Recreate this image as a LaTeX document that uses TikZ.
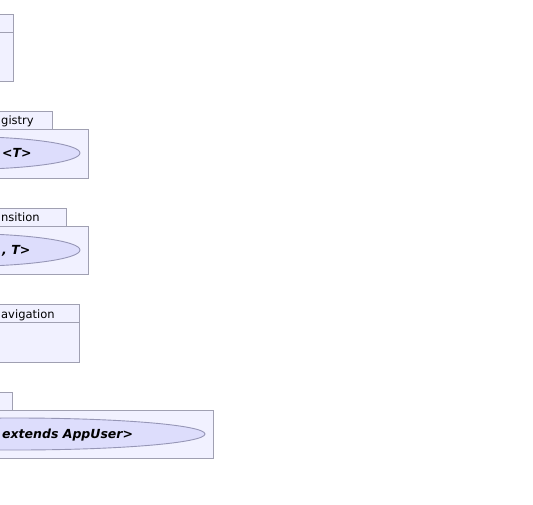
\documentclass[tikz,border=0pt]{standalone}
\usepackage{fontspec}
\setmainfont{DejaVu Sans}
\definecolor{pkgfill}{RGB}{241,241,255}
\definecolor{pkgline}{RGB}{160,160,178}
\definecolor{ucfill}{RGB}{221,221,252}
\definecolor{ucline}{RGB}{150,150,182}
\usetikzlibrary{shapes.geometric}

\begin{document}
\begin{tikzpicture}[x=1pt, y=-1pt,
    pkgbox/.style={draw=pkgline, fill=pkgfill, line width=0.9pt},
    tablabel/.style={anchor=base west, inner sep=0pt, font=\fontsize{11.5}{14}\selectfont},
    ucase/.style={ellipse, draw=ucline, fill=ucfill, line width=0.9pt, inner sep=0pt},
    uclabel/.style={anchor=base west, inner sep=0pt, font=\fontsize{12.5}{15}\selectfont\bfseries\itshape}
  ]
    \useasboundingbox (0,0) rectangle (533,504);
    \clip (0,0) rectangle (533,504);

    % Packages: tab top / tab right / body top / body right / body bottom
    \foreach \ty/\tr/\by/\br/\bb in {14/13/32/13/81, 111/52/129/88/178,
                                     208/66/226/88/274, 304/79/322/79/362,
                                     392/12/410/213/458}{
      \draw[pkgbox] (-20,\ty) rectangle (\tr,\by);
      \draw[pkgbox] (-20,\by) rectangle (\br,\bb);
    }

    % Tab labels
    \node[tablabel] (regtab) at (1,124) {gistry};
    \node[tablabel] (transtab) at (1,221.5) {nsition};
    \node[tablabel] (navtab) at (1,318.5) {avigation};

    % Use cases
    \node[ucase, minimum width=242pt, minimum height=33pt] (regcase) at (-41,153) {};
    \node[ucase, minimum width=242pt, minimum height=33pt] (transcase) at (-41,250) {};
    \node[ucase, minimum width=380pt, minimum height=32pt] (usercase) at (15,434) {};

    \node[uclabel] (reglabel) at (2,157) {<T>};
    \node[uclabel] (translabel) at (2,254.5) {, T>};
    \node[uclabel] (userlabel) at (2,438.5) {extends AppUser>};
  \end{tikzpicture}
\end{document}
